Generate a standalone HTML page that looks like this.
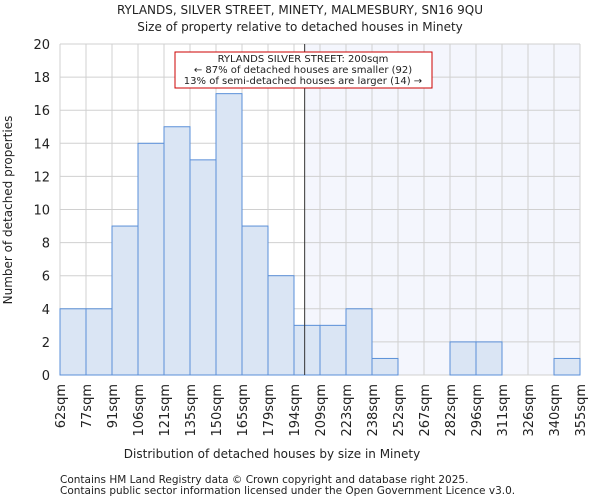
<!DOCTYPE html>
<html><head><meta charset="utf-8"><style>
body{margin:0;background:#fff;font-family:"DejaVu Sans","Liberation Sans",sans-serif}
text{font-family:"DejaVu Sans","Liberation Sans",sans-serif;fill:#222}
</style></head><body>
<svg id="c" width="600" height="500">
<text x="300" y="14" text-anchor="middle" font-size="12">RYLANDS, SILVER STREET, MINETY, MALMESBURY, SN16 9QU</text>
<text x="300" y="31" text-anchor="middle" font-size="12">Size of property relative to detached houses in Minety</text>
<g id="plot"></g>
<text x="272" y="458" text-anchor="middle" font-size="12">Distribution of detached houses by size in Minety</text>
<text transform="translate(12,210) rotate(-90)" text-anchor="middle" font-size="12">Number of detached properties</text>
<text x="60" y="483" font-size="10.5">Contains HM Land Registry data © Crown copyright and database right 2025.</text>
<text x="60" y="494" font-size="10.5">Contains public sector information licensed under the Open Government Licence v3.0.</text>
</svg>
<script>
const categories=["62sqm","77sqm","91sqm","106sqm","121sqm","135sqm","150sqm","165sqm","179sqm","194sqm","209sqm","223sqm","238sqm","252sqm","267sqm","282sqm","296sqm","311sqm","326sqm","340sqm","355sqm"];
const counts=[4,4,9,14,15,13,17,9,6,3,3,4,1,0,0,2,2,0,0,1];
const yTicks=[0,2,4,6,8,10,12,14,16,18,20];
const markerIndex=9.41;
const NS="http://www.w3.org/2000/svg";
const g=document.getElementById('plot');
const L=60,R=580,T=44,B=375,YMAX=20;
const nb=counts.length;
const x=i=>L+(R-L)*i/nb;
const y=v=>B-(B-T)*v/YMAX;
function mk(t,a){const e=document.createElementNS(NS,t);for(const k in a)e.setAttribute(k,a[k]);g.appendChild(e);return e;}
let e=mk('rect',{x:L,y:T,width:R-L,height:B-T,fill:'#fff'});


const mx=x(markerIndex);
e=mk('rect',{x:mx,y:T,width:R-mx,height:B-T,fill:'#f4f6fd'});


for(let i=0;i<=nb;i++){e=mk('line',{x1:x(i),x2:x(i),y1:T,y2:B,stroke:'#d0d0d0','stroke-width':1});

}
yTicks.forEach(v=>{e=mk('line',{x1:L,x2:R,y1:y(v),y2:y(v),stroke:'#d0d0d0','stroke-width':1});


const t=mk('text',{x:L-10,y:y(v)+5,'text-anchor':'end','font-size':13});t.textContent=v;

});
counts.forEach((c,i)=>{if(c<=0)return;e=mk('rect',{x:x(i),y:y(c),width:x(i+1)-x(i),height:B-y(c),fill:'#dae5f4',stroke:'#5a8fd8','stroke-width':1});

});
categories.forEach((c,i)=>{const t=mk('text',{transform:`translate(${x(i)+5},384) rotate(-90)`,'text-anchor':'end','font-size':13});t.textContent=c;

});
e=mk('line',{x1:mx,x2:mx,y1:T,y2:B,stroke:'#333','stroke-width':1});


e=mk('rect',{x:175,y:52,width:257,height:36,fill:'#fff',stroke:'#c00','stroke-width':1});


["RYLANDS SILVER STREET: 200sqm","← 87% of detached houses are smaller (92)","13% of semi-detached houses are larger (14) →"].forEach((s,i)=>{const t=mk('text',{x:303,y:62+i*11,'text-anchor':'middle','font-size':10});t.textContent=s;

});
</script>
</body></html>
